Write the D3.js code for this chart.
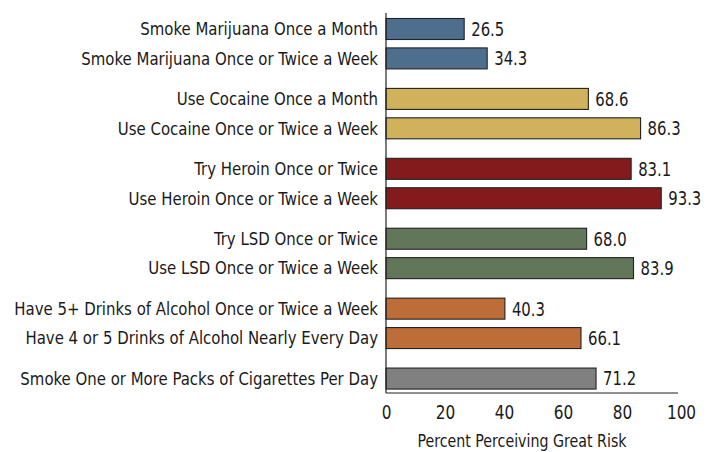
<!DOCTYPE html>
<html><head><meta charset="utf-8">
<script src="https://cdn.jsdelivr.net/npm/d3@7"></script>
<style>
body{margin:0;background:#fff;}
text{font-family:"DejaVu Sans Condensed","Liberation Sans",sans-serif;fill:#1a1a1a;}
</style></head>
<body><svg id="c" width="715" height="452"></svg>
<script>
const categories = [
  "Smoke Marijuana Once a Month",
  "Smoke Marijuana Once or Twice a Week",
  "Use Cocaine Once a Month",
  "Use Cocaine Once or Twice a Week",
  "Try Heroin Once or Twice",
  "Use Heroin Once or Twice a Week",
  "Try LSD Once or Twice",
  "Use LSD Once or Twice a Week",
  "Have 5+ Drinks of Alcohol Once or Twice a Week",
  "Have 4 or 5 Drinks of Alcohol Nearly Every Day",
  "Smoke One or More Packs of Cigarettes Per Day"
];
const values = [26.5, 34.3, 68.6, 86.3, 83.1, 93.3, 68.0, 83.9, 40.3, 66.1, 71.2];
const groups = [0, 0, 1, 1, 2, 2, 3, 3, 4, 4, 5];
const groupColors = ["#4e6e8e", "#d1b25c", "#851a1d", "#627659", "#bd6d37", "#808080"];
const xTicks = [0, 20, 40, 60, 80, 100];
const xTitle = "Percent Perceiving Great Risk";

const svg = d3.select("#c");
const x = d3.scaleLinear().domain([0, 100]).range([386, 681]);
const gapFrac = 0.378;
const y = d3.scaleLinear().domain([0, 1]).range([29, 58.4]);
const slot = (i) => i + groups[i] * gapFrac;
const barH = 21;

const g = svg.append("g");
g.selectAll("rect.bar").data(values).join("rect")
  .attr("class", "bar")
  .attr("x", x(0))
  .attr("y", (d, i) => y(slot(i)) - barH / 2)
  .attr("width", d => x(d) - x(0))
  .attr("height", barH)
  .attr("fill", (d, i) => groupColors[groups[i]])
  .attr("stroke", "#222")
  .attr("stroke-width", 1.1);

g.selectAll("text.val").data(values).join("text")
  .attr("class", "val")
  .attr("transform", (d, i) => `translate(${x(d) + 7},${y(slot(i))}) scale(0.87,1)`)
  .attr("dy", "0.36em")
  .attr("font-size", 19)
  .text(d => d.toFixed(1));

g.selectAll("text.cat").data(categories).join("text")
  .attr("class", "cat")
  .attr("transform", (d, i) => `translate(378,${y(slot(i))}) scale(0.95,1)`)
  .attr("dy", "0.36em")
  .attr("text-anchor", "end")
  .attr("font-size", 17.5)
  .text(d => d);

const xAxis = d3.axisBottom(x).tickValues(xTicks).tickSize(0).tickPadding(12).tickFormat(d3.format("d"));
const ax = svg.append("g").attr("transform", "translate(0,393)").call(xAxis);
ax.select(".domain").attr("stroke", "#222").attr("stroke-width", 1.2).attr("d", `M${x(0)},0H678`);
ax.selectAll(".tick text").attr("font-size", 20).attr("fill", "#1a1a1a")
  .attr("transform", "scale(0.85,1)")
  .style("font-family", '"DejaVu Sans Condensed","Liberation Sans",sans-serif');

svg.append("line").attr("x1", x(0)).attr("x2", x(0)).attr("y1", 13).attr("y2", 393)
  .attr("stroke", "#222").attr("stroke-width", 1.2);

svg.append("text").attr("transform", "translate(522,447) scale(0.93,1)").attr("text-anchor", "middle")
  .attr("font-size", 17).text(xTitle);
</script></body></html>
